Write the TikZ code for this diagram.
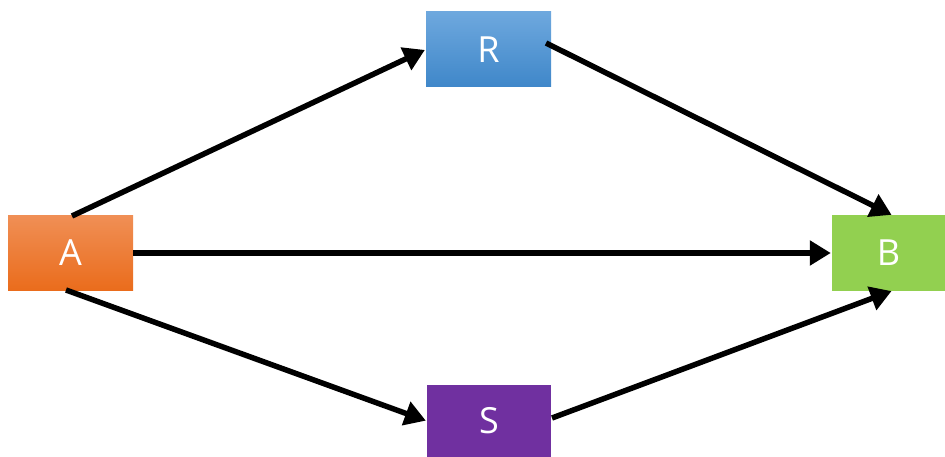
\documentclass[tikz,border=0pt]{standalone}
\usepackage{fontspec}
\setmainfont{Open Sans}
\usetikzlibrary{arrows.meta}
\definecolor{atop}{HTML}{F08F55}
\definecolor{abot}{HTML}{EA6C1C}
\definecolor{rtop}{HTML}{6EA8DE}
\definecolor{rbot}{HTML}{3F87C9}
\definecolor{bcol}{HTML}{92D050}
\definecolor{scol}{HTML}{7030A0}
\tikzset{
  box/.style={minimum width=125pt, minimum height=75pt, inner sep=0pt, text=white, font=\fontsize{36}{42}\selectfont},
  conn/.style={line width=5.5pt, -{Triangle[length=21pt,width=24pt]}, shorten >=1pt}
}
\begin{document}
\begin{tikzpicture}[x=1pt,y=-1pt]
\useasboundingbox (0,0) rectangle (945,457);
\node[box, top color=atop, bottom color=abot] (A) at (70.5,253) {A};
\node[box, top color=rtop, bottom color=rbot] (R) at (488.5,49.5) {R};
\node[box, fill=bcol, minimum width=113pt] (B) at (888.5,253) {B};
\node[box, fill=scol, minimum width=124pt, minimum height=72pt] (S) at (489,421) {S};
\coordinate (a1) at (72,216);
\coordinate (a3) at (66,290);
\coordinate (r2) at (546,43);
\coordinate (s2) at (552,418);
\draw[conn] (a1) -- (R.west);
\draw[conn] (A.east) -- (B.west);
\draw[conn] (a3) -- (S.west);
\draw[conn] (r2) -- ([xshift=4pt]B.north);
\draw[conn] (s2) -- ([xshift=4pt]B.south);
\end{tikzpicture}
\end{document}
